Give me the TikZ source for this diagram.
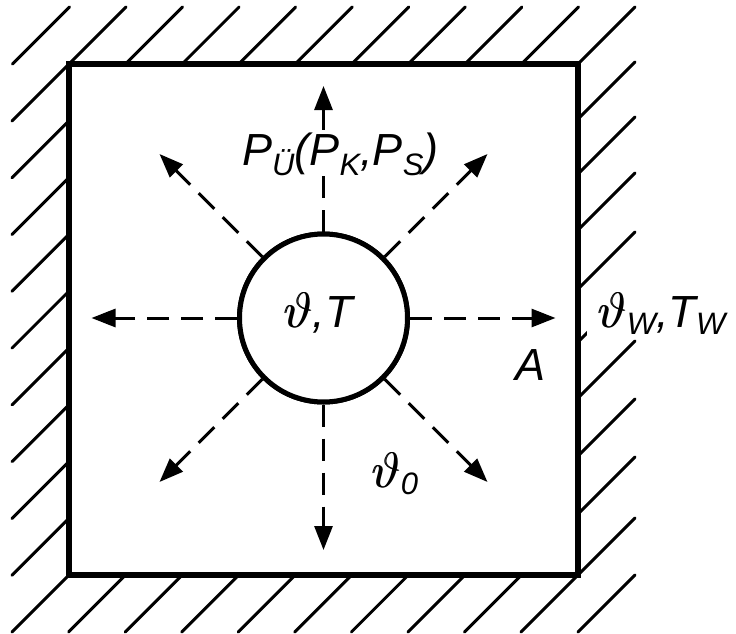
\documentclass[tikz,border=0pt]{standalone}
\usepackage{fontspec}
\setmainfont{Liberation Sans}
\usetikzlibrary{arrows.meta}
\newcommand\mysub[2][9]{\raisebox{-#1pt}{\fontsize{31}{31}\selectfont #2}}
\newcommand\mythg{\scalebox{2.0}[2.0]{\fontsize{24.88}{26}\selectfont$\vartheta$}}
\newcommand\myth{\rlap{\mythg}\kern0.9pt\mythg}
\tikzset{
  hatch/.style={line width=3pt, line cap=round},
  wallbox/.style={draw, line width=6pt, inner sep=0pt},
  heat/.style={line width=3pt, dash pattern=on 22pt off 12pt, -{Triangle[length=24pt,width=18pt]}},
  body/.style={circle, draw, line width=5pt, fill=white, inner sep=0pt, minimum size=168pt},
  txt/.style={font=\fontsize{45}{50}\selectfont\itshape, inner sep=0pt}
}
\begin{document}
\begin{tikzpicture}[x=1pt,y=-1pt]
\useasboundingbox (0,0) rectangle (736,634);
% hatching
\foreach \k in {-1,...,9} {
  \draw[hatch] ({69+56.56*\k},64) -- ({126+56.56*\k},7);
}
\foreach \k in {0,...,8} {
  \draw[hatch] (69,{64+56.78*\k}) -- (12,{121+56.78*\k});
}
\foreach \k in {0,...,9} {
  \draw[hatch] ({69+56.56*\k},575) -- ({12+56.56*\k},632);
}
\foreach \y in {119,174,230,289,342,398,456,514,575,632} {
  \draw[hatch] (578,\y) -- (635,{\y-57});
}
% room
\node[wallbox, minimum width=509pt, minimum height=511pt] (room) at (323.5,319.5) {};
% tips
\coordinate (t0) at (555.5,318);
\coordinate (t45) at (487.5,154);
\coordinate (t90) at (323.5,86);
\coordinate (t135) at (159.5,154);
\coordinate (t180) at (91.5,318);
\coordinate (t225) at (159.5,482);
\coordinate (t270) at (323.5,550);
\coordinate (t315) at (487.5,482);
\node[body] (c) at (323.5,318) {};
\foreach \a in {0,45,90,135,180,225,270,315} {
  \draw[heat] (c.\a) -- (t\a);
}
\node[body] (c) at (323.5,318) {};
% texts
\node[txt, anchor=base west] (ct) at (283,327) {\myth,T};
\node[txt, fill=white, inner xsep=2pt, anchor=base west] (pu) at (240,165) {P\mysub[10]{Ü}(P\mysub[10]{K},P\mysub[10]{S})};
\node[txt, fill=white, inner xsep=10pt, text height=44pt, text depth=9pt, anchor=base west] (tw) at (587,327) {\myth\mysub[7]{W},T\mysub[7]{W}};
\node[txt, anchor=base west] (la) at (515,380) {A};
\node[txt, anchor=base west] (l0) at (371,487) {\myth\mysub[7]{0}};
\end{tikzpicture}
\end{document}
